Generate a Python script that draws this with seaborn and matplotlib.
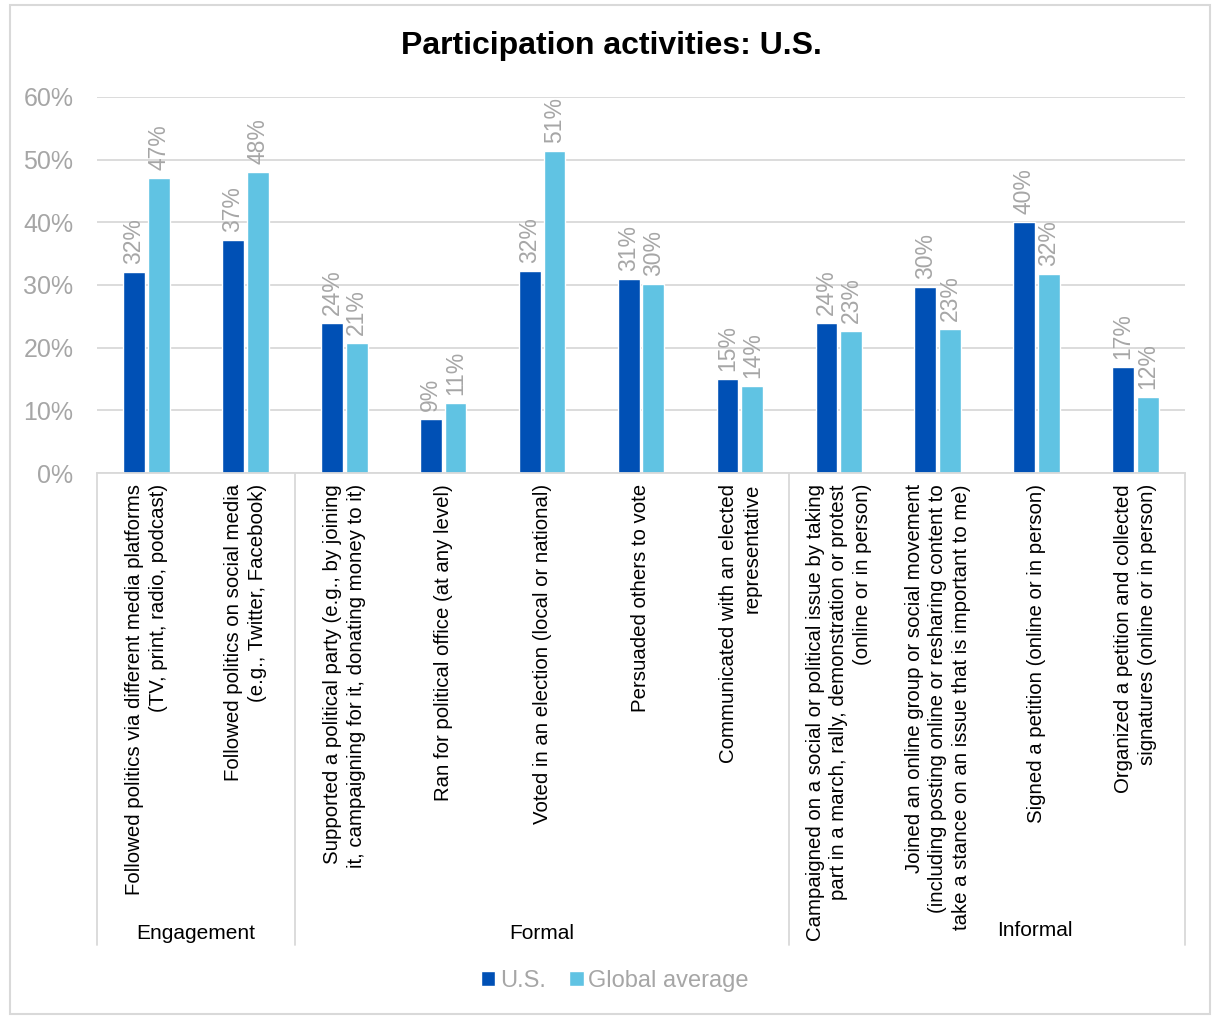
import numpy as np
import pandas as pd
import seaborn as sns
import matplotlib.pyplot as plt
from matplotlib.patches import Patch, Rectangle
from matplotlib.transforms import blended_transform_factory

activities = [
    "Followed politics via different media platforms\n(TV, print, radio, podcast)",
    "Followed politics on social media\n(e.g., Twitter, Facebook)",
    "Supported a political party (e.g., by joining\nit, campaigning for it, donating money to it)",
    "Ran for political office (at any level)",
    "Voted in an election (local or national)",
    "Persuaded others to vote",
    "Communicated with an elected\nrepresentative",
    "Campaigned on a social or political issue by taking\npart in a march, rally, demonstration or protest\n(online or in person)",
    "Joined an online group or social movement\n(including posting online or resharing content to\ntake a stance on an issue that is important to me)",
    "Signed a petition (online or in person)",
    "Organized a petition and collected\nsignatures (online or in person)",
]
us = [32.1, 37.2, 23.9, 8.6, 32.2, 31.0, 15.0, 23.9, 29.7, 40.1, 16.9]
global_avg = [47.1, 48.0, 20.8, 11.2, 51.4, 30.1, 13.9, 22.6, 23.0, 31.7, 12.1]
series = ["U.S.", "Global average"]
groups = ["Engagement", "Formal", "Informal"]
group_sizes = [2, 5, 4]

dark = "#0050b5"
light = "#60c3e3"
grey_txt = "#a6a6a6"
line_col = "#d9d9d9"

sns.set_theme(style="white")
plt.rcParams["font.family"] = ["Liberation Sans", "DejaVu Sans"]

df = pd.DataFrame({
    "activity": activities * 2,
    "value": us + global_avg,
    "series": [series[0]] * len(us) + [series[1]] * len(global_avg),
})

fig = plt.figure(figsize=(12.12, 10.16), dpi=100)
ax = fig.add_axes([97 / 1212, 1 - 473 / 1016, (1185 - 97) / 1212, (473 - 97) / 1016])

sns.barplot(data=df, x="activity", y="value", hue="series", order=activities,
            hue_order=series, palette=[dark, light], saturation=1,
            width=0.5, gap=0.12, legend=False, ax=ax)

# value labels above bars
for cont, vals in zip(ax.containers, [us, global_avg]):
    for bar, v in zip(cont, vals):
        ax.text(bar.get_x() + bar.get_width() / 2, bar.get_height() + 1.3,
                f"{v:.0f}%", rotation=90, ha="center", va="bottom",
                color=grey_txt, fontsize=16.5)

ax.set_ylim(0, 60)
ax.set_xlim(-0.5, 10.5)
ax.set_yticks(range(0, 61, 10))
ax.set_yticklabels([f"{t}%" for t in range(0, 61, 10)], color=grey_txt, fontsize=18)
ax.set_xticks(range(len(activities)))
ax.set_xticklabels(activities, rotation=90, fontsize=14.7, linespacing=1.3,
                   multialignment="right", color="black")
ax.tick_params(axis="y", length=0, pad=17)
ax.tick_params(axis="x", length=0, pad=8)
ax.set_xlabel("")
ax.set_ylabel("")
ax.yaxis.grid(True, color=line_col, linewidth=1.3)
ax.set_axisbelow(True)
sns.despine(ax=ax, left=True)
ax.spines["bottom"].set_color(line_col)
ax.spines["bottom"].set_linewidth(1.3)

# group separators and labels
trans = blended_transform_factory(ax.transData, ax.transAxes)
edges = np.cumsum([0] + group_sizes) - 0.5
for x in edges:
    ax.plot([x, x], [0, -1.255], transform=trans, color=line_col, lw=1.3, clip_on=False)
group_x = [0.5, 4.0, 8.98]
group_y = [-1.225, -1.225, -1.218]
for name, gx, gy in zip(groups, group_x, group_y):
    ax.text(gx, gy, name, transform=trans, ha="center", va="center",
            fontsize=15, color="black")

fig.text(611 / 1212, 1 - 46 / 1016, "Participation activities: U.S.",
         ha="center", va="center", fontsize=23, fontweight="bold", color="black")

handles = [Patch(facecolor=dark), Patch(facecolor=light)]
fig.legend(handles, series, loc="center", bbox_to_anchor=(615 / 1212, 1 - 981 / 1016),
           ncol=2, frameon=False, fontsize=17, handlelength=0.6, handleheight=0.6,
           handletextpad=0.2, columnspacing=1.0, labelcolor=grey_txt)

fig.patches.append(Rectangle((0.008, 0.002), 0.99, 0.993, transform=fig.transFigure,
                             fill=False, edgecolor=line_col, lw=1.5))

fig.savefig("out.png", dpi=100)
